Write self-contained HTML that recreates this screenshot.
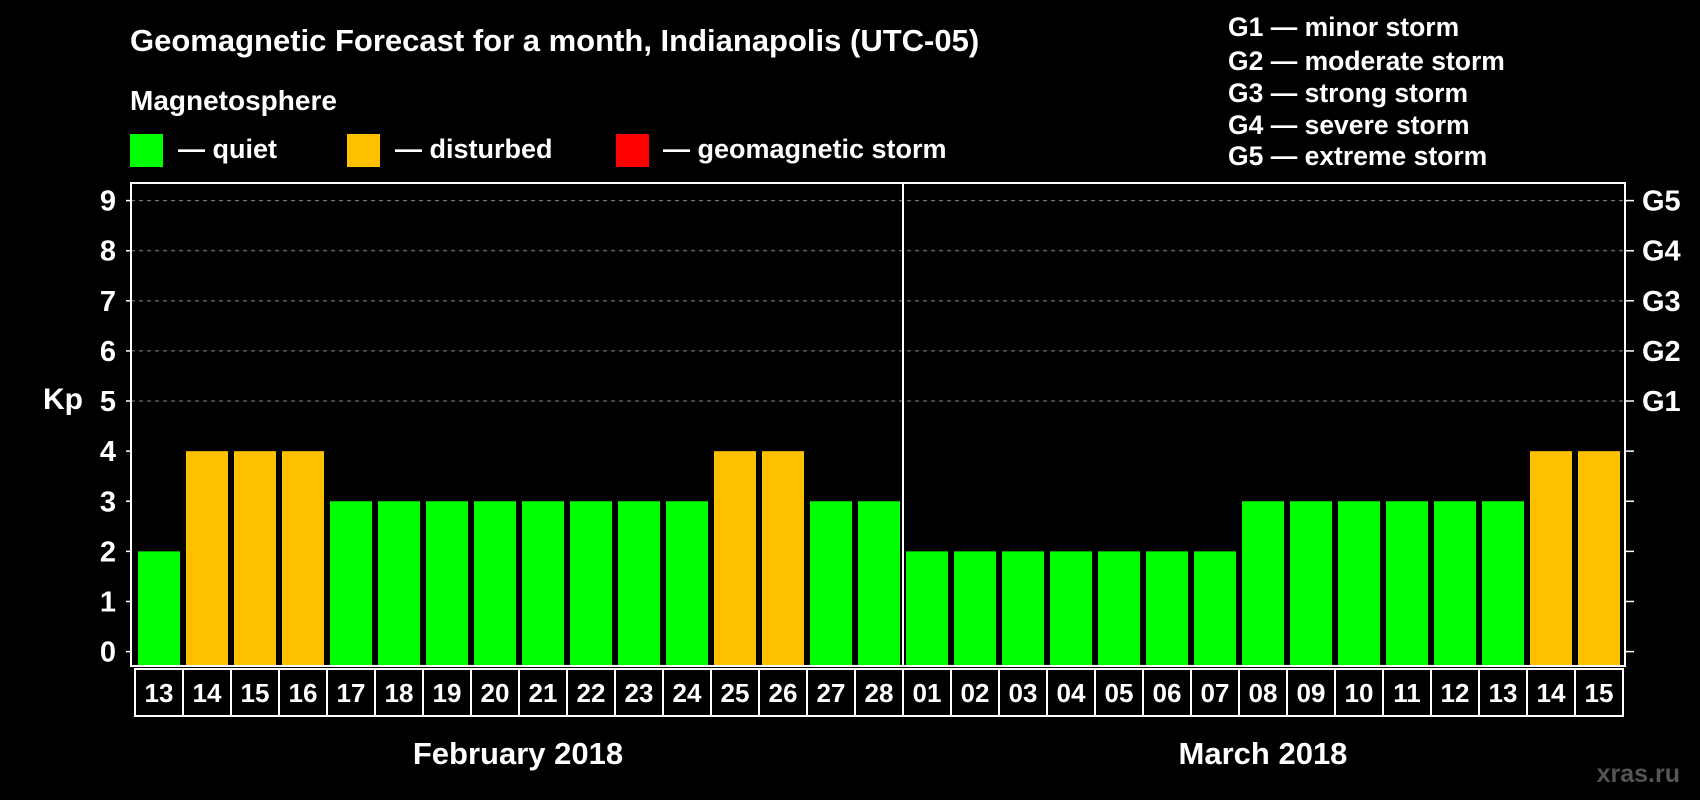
<!DOCTYPE html>
<html><head><meta charset="utf-8"><style>
html,body{margin:0;padding:0;background:#000;}
svg{display:block;font-family:"Liberation Sans",Arial,sans-serif;font-weight:bold;}
</style></head><body>
<svg id="chart" width="1700" height="800" viewBox="0 0 1700 800" xmlns="http://www.w3.org/2000/svg">
<rect width="1700" height="800" fill="#000"/>
<text x="130" y="51" fill="#fff" font-size="31">Geomagnetic Forecast for a month, Indianapolis (UTC-05)</text>
<text x="130" y="110" fill="#fff" font-size="28">Magnetosphere</text>
<g><rect x="130" y="134" width="33" height="33" fill="#00ff00"/><text x="178" y="158" fill="#fff" font-size="27">— quiet</text></g>
<g><rect x="347" y="134" width="33" height="33" fill="#ffc000"/><text x="395" y="158" fill="#fff" font-size="27">— disturbed</text></g>
<g><rect x="616" y="134" width="33" height="33" fill="#ff0000"/><text x="663" y="158" fill="#fff" font-size="27">— geomagnetic storm</text></g>
<g fill="#fff" font-size="26.5">
<text x="1228" y="36">G1 — minor storm</text>
<text x="1228" y="70">G2 — moderate storm</text>
<text x="1228" y="102">G3 — strong storm</text>
<text x="1228" y="134">G4 — severe storm</text>
<text x="1228" y="165">G5 — extreme storm</text>
</g>
<text x="43" y="409" fill="#fff" font-size="30">Kp</text>
<g id="grid"></g><g id="bars"></g><g id="axes"></g>
<text x="518" y="764" fill="#fff" font-size="31" text-anchor="middle">February 2018</text>
<text x="1263" y="764" fill="#fff" font-size="31" text-anchor="middle">March 2018</text>
<text x="1680" y="782" fill="#555" font-size="25" text-anchor="end">xras.ru</text>
</svg>
<script>
const days = ["13","14","15","16","17","18","19","20","21","22","23","24","25","26","27","28","01","02","03","04","05","06","07","08","09","10","11","12","13","14","15"];
const kpValues = [2,4,4,4,3,3,3,3,3,3,3,3,4,4,3,3,2,2,2,2,2,2,2,3,3,3,3,3,3,4,4];
const yTicks = [0,1,2,3,4,5,6,7,8,9];
const gLabels = ["G1","G2","G3","G4","G5"];
const NS="http://www.w3.org/2000/svg";
const X0=135, STEP=48, Y0=651.6, UNIT=(651.6-200.6)/9, L=131, R=1625, T=183, B=666;
const BOXT=669, BOXB=716;
const y=v=>Y0-v*UNIT;
const x=i=>X0+i*STEP;
function mk(tag,attrs,parent){const e=document.createElementNS(NS,tag);for(const k in attrs)e.setAttribute(k,attrs[k]);parent.appendChild(e);return e;}
const grid=document.getElementById('grid'),bars=document.getElementById('bars'),axes=document.getElementById('axes');
yTicks.forEach(v=>{
  if(v>=5){const g=mk('line',{x1:L,x2:R,y1:y(v),y2:y(v),stroke:'#888','stroke-dasharray':'4 4','stroke-width':1},grid);
  
  }
  const t1=mk('line',{x1:L-5,x2:L,y1:y(v),y2:y(v),stroke:'#fff','stroke-width':1.5},axes);
  
  
  const t2=mk('line',{x1:R,x2:R+9,y1:y(v),y2:y(v),stroke:'#fff','stroke-width':1.5},axes);
  
  
  const lb=mk('text',{x:116,y:y(v)+10,fill:'#fff','font-size':29,'text-anchor':'end'},axes);lb.textContent=v;
  
  
});
gLabels.forEach((g,i)=>{const t=mk('text',{x:1642,y:y(5+i)+10,fill:'#fff','font-size':29},axes);t.textContent=g;
  
  });
kpValues.forEach((v,i)=>{
  const c=v>=5?'#ff0000':(v>=4?'#ffc000':'#00ff00');
  const b=mk('rect',{x:x(i)+3,y:y(v),width:42,height:B-y(v),fill:c},bars);
  
  
  const bx=mk('rect',{x:x(i),y:BOXT,width:STEP,height:BOXB-BOXT,fill:'none',stroke:'#fff','stroke-width':2},axes);
  
  
  const t=mk('text',{x:x(i)+STEP/2,y:702,fill:'#fff','font-size':26,'text-anchor':'middle'},axes);t.textContent=days[i];
  
  
});
const fr=mk('rect',{x:L,y:T,width:R-L,height:B-T,fill:'none',stroke:'#fff','stroke-width':2},axes);


const sep=mk('line',{x1:x(16),x2:x(16),y1:T,y2:B,stroke:'#fff','stroke-width':2},axes);


</script>
</body></html>
